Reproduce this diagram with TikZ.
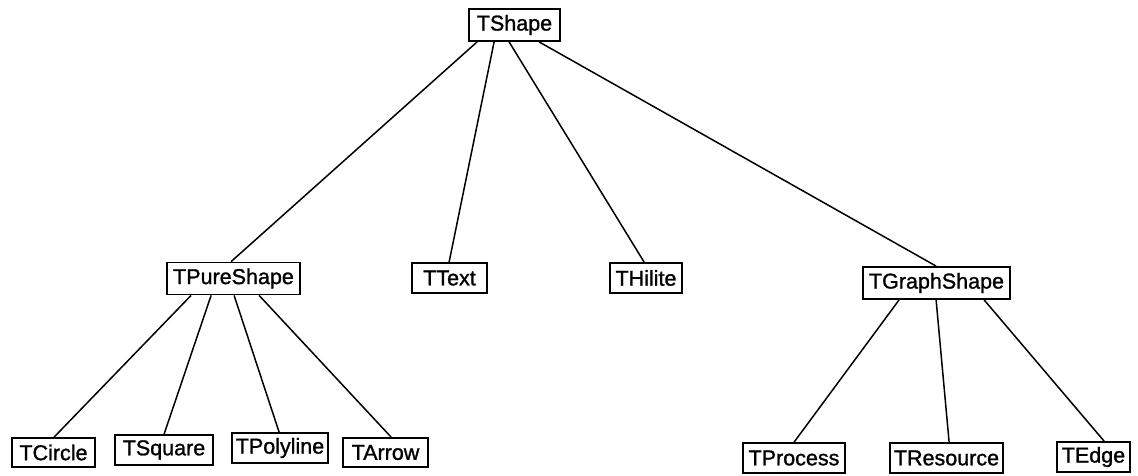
\documentclass[tikz,border=0pt]{standalone}
\usepackage{fontspec}
\setmainfont{Liberation Sans}[FakeBold=1.2]
\begin{document}
\begin{tikzpicture}[x=1pt,y=-1pt,
  cls/.style={draw, line width=1.8pt, rectangle, inner sep=0pt,
    font=\fontsize{21.5}{24}\selectfont},
  link/.style={line width=1.5pt}]
\useasboundingbox (0,0) rectangle (1138,476);
% class boxes
\node[cls, minimum width=91pt,  minimum height=32pt] (ts)  at (514.5,25)  {TShape};
\node[cls, minimum width=133pt, minimum height=32pt] (tp)  at (233.5,278.5) {TPureShape};
\node[cls, minimum width=75pt,  minimum height=30pt] (tt)  at (449.5,278) {TText};
\node[cls, minimum width=72pt,  minimum height=30pt] (th)  at (646,278)   {THilite};
\node[cls, minimum width=147pt, minimum height=32pt] (tg)  at (936.5,283) {TGraphShape};
\node[cls, minimum width=83pt,  minimum height=29pt] (tc)  at (53.5,452.5) {TCircle};
\node[cls, minimum width=98pt,  minimum height=30pt] (tsq) at (164,450)   {TSquare};
\node[cls, minimum width=96pt,  minimum height=30pt] (tpl) at (280,448)   {TPolyline};
\node[cls, minimum width=85pt,  minimum height=29pt] (ta)  at (385.5,452.5) {TArrow};
\node[cls, minimum width=102pt, minimum height=30pt] (tpr) at (794,458)   {TProcess};
\node[cls, minimum width=113pt, minimum height=30pt] (tr)  at (946.5,458) {TResource};
\node[cls, minimum width=73pt,  minimum height=30pt] (te)  at (1093.5,457) {TEdge};
% inheritance links
\draw[link] ([xshift=9pt]ts.south west)  -- ([xshift=65pt]tp.north west);
\draw[link] ([xshift=26pt]ts.south west) -- ([xshift=38pt]tt.north west);
\draw[link] ([xshift=41pt]ts.south west) -- ([xshift=35pt]th.north west);
\draw[link] ([xshift=71pt]ts.south west) -- ([xshift=74pt]tg.north west);
\draw[link] ([xshift=25pt]tp.south west) -- ([xshift=43pt]tc.north west);
\draw[link] ([xshift=45pt]tp.south west) -- ([xshift=50pt]tsq.north west);
\draw[link] ([xshift=68pt]tp.south west) -- ([xshift=48pt]tpl.north west);
\draw[link] ([xshift=93pt]tp.south west) -- ([xshift=49pt]ta.north west);
\draw[link] ([xshift=37pt]tg.south west) -- ([xshift=52pt]tpr.north west);
\draw[link] ([xshift=74pt]tg.south west) -- ([xshift=60pt]tr.north west);
\draw[link] ([xshift=122pt]tg.south west) -- ([xshift=48pt]te.north west);
\end{tikzpicture}
\end{document}
